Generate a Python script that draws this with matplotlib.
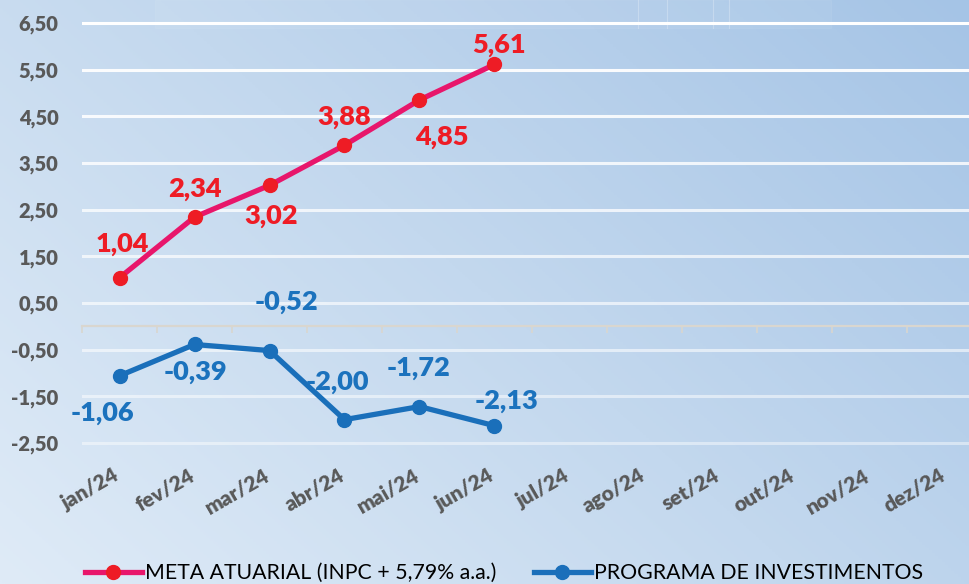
import numpy as np
import matplotlib ; matplotlib.use('Agg')
from matplotlib import pyplot as plt
from matplotlib.colors import LinearSegmentedColormap
from matplotlib.lines import Line2D

# Data
meses = ['jan/24', 'fev/24', 'mar/24', 'abr/24', 'mai/24', 'jun/24',
         'jul/24', 'ago/24', 'set/24', 'out/24', 'nov/24', 'dez/24']
meta = [1.04, 2.34, 3.02, 3.88, 4.85, 5.61]
programa = [-1.06, -0.39, -0.52, -2.00, -1.72, -2.13]
yticks = [-2.5, -1.5, -0.5, 0.5, 1.5, 2.5, 3.5, 4.5, 5.5, 6.5]
lbl_meta = 'META ATUARIAL (INPC + 5,79% a.a.)'
lbl_prog = 'PROGRAMA DE INVESTIMENTOS'

# label offsets (points) for the data labels
off_meta = [(2, 24), (0, 20), (1, -22), (0, 20), (16, -27), (3, 14)]
off_prog = [(-12, -27), (1, -20), (12, 35), (-5, 27), (-1, 28), (9, 18)]

def fmt(v):
    return '{:.2f}'.format(v).replace('.', ',')

plt.rcParams['font.family'] = ['Lato', 'DejaVu Sans']
W = 'heavy'

fig = plt.figure(figsize=(9.69, 5.84), dpi=100)

# background gradient (light bottom-left -> darker top-right)
bg = fig.add_axes([0, 0, 1, 1], zorder=-5)
xx, yy = np.meshgrid(np.linspace(0, 1, 300), np.linspace(0, 1, 200))
g = (xx * 0.6 + yy * 0.4)
cmap = LinearSegmentedColormap.from_list('bg', ['#DFEBF7', '#C3D8EE', '#A5C4E6'])
bg.imshow(g, cmap=cmap, origin='lower', aspect='auto', extent=[0, 1, 0, 1])
bg.axis('off')
# faint box at the top
bg.add_patch(plt.Rectangle((155/969, 1-28/584), (831-155)/969, 28/584,
                           facecolor='white', alpha=0.06, edgecolor='white', lw=0.8))
for xv in [638, 667, 713, 729]:
    bg.plot([xv/969, xv/969], [1-28/584, 1], color='white', alpha=0.25, lw=0.8)

# axes, right edge cut off by the figure
ax = fig.add_axes([82/969, 0.2255, 900/969, 0.7512])
ax.patch.set_alpha(0)
ax.set_xlim(-0.5, 11.5)
ax.set_ylim(-2.7, 6.7)

for i, yv in enumerate(yticks):
    ax.axhline(yv, color='white', lw=2.2, alpha=0.45 + 0.55 * i / (len(yticks) - 1), zorder=1)

for s in ['top', 'right', 'left']:
    ax.spines[s].set_visible(False)
ax.spines['bottom'].set_position(('data', 0))
ax.spines['bottom'].set_color('#D9D6CF')
ax.spines['bottom'].set_linewidth(1.6)
ax.set_xticks(np.arange(-0.5, 12, 1))
ax.set_xticklabels([])
ax.tick_params(axis='x', direction='out', length=5, width=1.2, color='#D9D6CF')

ax.set_yticks(yticks)
ax.set_yticklabels([fmt(v) for v in yticks], fontsize=14.5, fontweight=W, color='#595959')
ax.tick_params(axis='y', length=0, pad=17)

# month labels below the plot area
for i, m in enumerate(meses):
    ax.text(i + 0.04, -0.03, m, transform=ax.get_xaxis_transform(), rotation=30,
            ha='right', va='top', fontsize=15, fontweight=W, color='#595959')

xm = np.arange(len(meta))
xp = np.arange(len(programa))
ax.plot(xm, meta, color='#E8166B', lw=3.8, marker='o', ms=10,
        mfc='#EE1C25', mec='#EE1C25', zorder=5, clip_on=False)
ax.plot(xp, programa, color='#1A6FBA', lw=3.8, marker='o', ms=10,
        mfc='#1A6FBA', mec='#1A6FBA', zorder=5, clip_on=False)

for i, v in enumerate(meta):
    ax.annotate(fmt(v), (xm[i], v), xytext=off_meta[i], textcoords='offset points',
                ha='center', va='center', fontsize=19.5, fontweight=W, color='#EE1C25', zorder=6)
for i, v in enumerate(programa):
    ax.annotate(fmt(v), (xp[i], v), xytext=off_prog[i], textcoords='offset points',
                ha='center', va='center', fontsize=19.5, fontweight=W, color='#1B72BD', zorder=6)

# legend at the bottom
h1 = Line2D([], [], color='#E8166B', lw=3.8, marker='o', ms=10, mfc='#EE1C25', mec='#EE1C25')
h2 = Line2D([], [], color='#1A6FBA', lw=3.8, marker='o', ms=10, mfc='#1A6FBA', mec='#1A6FBA')
fig.legend([h1, h2], [lbl_meta, lbl_prog], loc='center left', ncol=2,
           bbox_to_anchor=(85/969, 1 - 573/584), frameon=False, fontsize=15.3,
           handlelength=2.68, handletextpad=0.15, columnspacing=1.75, borderpad=0,
           borderaxespad=0)

plt.savefig('out.png', dpi=100)
print('Output: out.png')
